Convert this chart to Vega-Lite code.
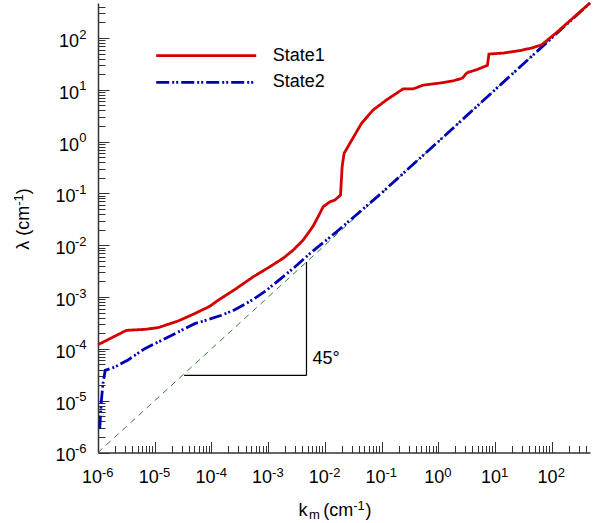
{
  "$schema": "https://vega.github.io/schema/vega-lite/v6.json",
  "width": 492,
  "height": 449.5,
  "autosize": {"type": "none"},
  "padding": {"left": 98, "top": 3, "right": 13, "bottom": 70.5},
  "config": {
    "font": "Liberation Sans",
    "view": {"stroke": null},
    "axis": {"grid": false, "labelFont": "Liberation Sans", "titleFont": "Liberation Sans", "labelColor": "#000", "titleColor": "#000", "titleFontWeight": "normal", "labelFlush": false, "labelOverlap": false, "labelBound": false},
    "legend": {"symbolType": "stroke", "symbolSize": 10000, "symbolStrokeWidth": 2.8, "clipHeight": 20, "rowPadding": 6.7, "labelOffset": 15, "labelFontSize": 18, "labelFont": "Liberation Sans", "labelColor": "#000", "padding": 0, "labelLimit": 300}
  },
  "resolve": {"axis": {"x": "independent", "y": "independent"}},
  "layer": [
    {
      "data": {"values": [{"k": 1e-6, "lam": 1e-6}, {"k": 475, "lam": 475}]},
      "mark": {"type": "line", "color": "#2f7f2f", "strokeWidth": 1, "strokeDash": [6, 5]},
      "encoding": {
        "x": {"field": "k", "type": "quantitative", "scale": {"type": "log", "domain": [1e-6, 475], "nice": false},
          "axis": {"orient": "bottom", "values": [1e-6,2e-6,3e-6,4e-6,5e-6,6e-6,7e-6,8e-6,9e-6,1e-5,2e-5,3e-5,4e-5,5e-5,6e-5,7e-5,8e-5,9e-5,1e-4,2e-4,3e-4,4e-4,5e-4,6e-4,7e-4,8e-4,9e-4,0.001,0.002,0.003,0.004,0.005,0.006,0.007,0.008,0.009,0.01,0.02,0.03,0.04,0.05,0.06,0.07,0.08,0.09,0.1,0.2,0.3,0.4,0.5,0.6,0.7,0.8,0.9,1,2,3,4,5,6,7,8,9,10,20,30,40,50,60,70,80,90,100,200,300,400],
            "labels": false, "ticks": true,
            "tickSize": {"condition": {"test": "abs(log(datum.value)/LN10 - round(log(datum.value)/LN10)) < 0.01", "value": -11}, "value": -7},
            "tickColor": "#333", "tickWidth": 1, "domain": true, "domainColor": "#333", "domainWidth": 1.5,
            "title": "k", "titleX": 200, "titleY": 62.5, "titleAlign": "left", "titleBaseline": "alphabetic", "titleAngle": 0, "titleFontSize": 18}},
        "y": {"field": "lam", "type": "quantitative", "scale": {"type": "log", "domain": [1e-6, 475], "nice": false},
          "axis": {"orient": "left", "values": [1e-6,2e-6,3e-6,4e-6,5e-6,6e-6,7e-6,8e-6,9e-6,1e-5,2e-5,3e-5,4e-5,5e-5,6e-5,7e-5,8e-5,9e-5,1e-4,2e-4,3e-4,4e-4,5e-4,6e-4,7e-4,8e-4,9e-4,0.001,0.002,0.003,0.004,0.005,0.006,0.007,0.008,0.009,0.01,0.02,0.03,0.04,0.05,0.06,0.07,0.08,0.09,0.1,0.2,0.3,0.4,0.5,0.6,0.7,0.8,0.9,1,2,3,4,5,6,7,8,9,10,20,30,40,50,60,70,80,90,100,200,300,400],
            "labels": false, "ticks": true,
            "tickSize": {"condition": {"test": "abs(log(datum.value)/LN10 - round(log(datum.value)/LN10)) < 0.01", "value": -11}, "value": -7},
            "tickColor": "#333", "tickWidth": 1, "domain": true, "domainColor": "#333", "domainWidth": 1.5,
            "title": "λ (cm", "titleX": -69.3, "titleY": 246.3, "titleAlign": "left", "titleBaseline": "alphabetic", "titleAngle": -90, "titleFontSize": 18}}
      }
    },
    {
      "data": {"values": [
        {"k1": 3.3e-5, "k2": 4.75e-3, "l1": 3.07e-5, "l2": 3.07e-5},
        {"k1": 4.75e-3, "k2": 4.75e-3, "l1": 3.07e-5, "l2": 4.75e-3}
      ]},
      "mark": {"type": "rule", "color": "#000", "strokeWidth": 1.2},
      "encoding": {
        "x": {"field": "k1", "type": "quantitative", "scale": {"type": "log", "domain": [1e-6, 475], "nice": false},
          "axis": {"orient": "bottom", "values": [1e-6,1e-5,1e-4,0.001,0.01,0.1,1,10,100], "ticks": false, "tickSize": 0, "domain": false,
            "labelExpr": "'10'", "labelAlign": "right", "labelBaseline": "alphabetic", "labelFontSize": 18, "labelPadding": 30.2,
            "labelOffset": {"condition": {"test": "datum.value < 1", "value": 3.5}, "value": 5.5},
            "title": "m", "titleX": 210.5, "titleY": 65.8, "titleAlign": "left", "titleBaseline": "alphabetic", "titleAngle": 0, "titleFontSize": 13}},
        "x2": {"field": "k2"},
        "y": {"field": "l1", "type": "quantitative", "scale": {"type": "log", "domain": [1e-6, 475], "nice": false},
          "axis": {"orient": "left", "values": [1e-6,1e-5,1e-4,0.001,0.01,0.1,1,10,100], "ticks": false, "tickSize": 0, "domain": false,
            "labelExpr": "'10'", "labelAlign": "right", "labelBaseline": "alphabetic", "labelFontSize": 18,
            "labelPadding": {"condition": {"test": "datum.value < 1", "value": 23}, "value": 19.5}, "labelOffset": 8.4,
            "title": "-1", "titleX": -75.3, "titleY": 202.3, "titleAlign": "left", "titleBaseline": "alphabetic", "titleAngle": -90, "titleFontSize": 13}},
        "y2": {"field": "l2"}
      }
    },
    {
      "data": {"values": [
        {"k": 1.072e-6, "lam": 2.90e-6, "series": "State2"},
        {"k": 1.148e-6, "lam": 1.009e-5, "series": "State2"},
        {"k": 1.225e-6, "lam": 2.15e-5, "series": "State2"},
        {"k": 1.34e-6, "lam": 3.84e-5, "series": "State2"},
        {"k": 1.97e-6, "lam": 4.45e-5, "series": "State2"},
        {"k": 3.38e-6, "lam": 6.12e-5, "series": "State2"},
        {"k": 4.44e-6, "lam": 7.48e-5, "series": "State2"},
        {"k": 6.67e-6, "lam": 1.009e-4, "series": "State2"},
        {"k": 1.315e-5, "lam": 1.459e-4, "series": "State2"},
        {"k": 2.58e-5, "lam": 2.11e-4, "series": "State2"},
        {"k": 5.08e-5, "lam": 3.07e-4, "series": "State2"},
        {"k": 8.73e-5, "lam": 3.67e-4, "series": "State2"},
        {"k": 1.506e-4, "lam": 4.45e-4, "series": "State2"},
        {"k": 2.58e-4, "lam": 5.68e-4, "series": "State2"},
        {"k": 5.43e-4, "lam": 8.95e-4, "series": "State2"},
        {"k": 9.37e-4, "lam": 1.355e-3, "series": "State2"},
        {"k": 2.76e-3, "lam": 3.56e-3, "series": "State2"},
        {"k": 5.45e-3, "lam": 6.93e-3, "series": "State2"},
        {"k": 1.61e-2, "lam": 1.815e-2, "series": "State2"},
        {"k": 0.1, "lam": 0.102, "series": "State2"},
        {"k": 1, "lam": 1, "series": "State2"},
        {"k": 475, "lam": 475, "series": "State2"}
      ]},
      "mark": {"type": "line", "strokeWidth": 2.8, "strokeCap": "butt"},
      "encoding": {
        "x": {"field": "k", "type": "quantitative", "scale": {"type": "log", "domain": [1e-6, 475], "nice": false},
          "axis": {"orient": "bottom", "values": [1e-6,1e-5,1e-4,0.001,0.01,0.1,1,10,100], "ticks": false, "tickSize": 0, "domain": false,
            "labelExpr": "'' + round(log(datum.value)/LN10)", "labelAlign": "left", "labelBaseline": "alphabetic", "labelFontSize": 13, "labelPadding": 24.2,
            "labelOffset": {"condition": {"test": "datum.value < 1", "value": 3.5}, "value": 5.5},
            "title": "(cm", "titleX": 224.7, "titleY": 62.5, "titleAlign": "left", "titleBaseline": "alphabetic", "titleAngle": 0, "titleFontSize": 18}},
        "y": {"field": "lam", "type": "quantitative", "scale": {"type": "log", "domain": [1e-6, 475], "nice": false},
          "axis": {"orient": "left", "values": [1e-6,1e-5,1e-4,0.001,0.01,0.1,1,10,100], "ticks": false, "tickSize": 0, "domain": false,
            "labelExpr": "'' + round(log(datum.value)/LN10)", "labelAlign": "right", "labelBaseline": "alphabetic", "labelFontSize": 13, "labelPadding": 12, "labelOffset": 0,
            "title": ")", "titleX": -69.3, "titleY": 190.7, "titleAlign": "left", "titleBaseline": "alphabetic", "titleAngle": -90, "titleFontSize": 18}},
        "color": {"field": "series", "type": "nominal", "scale": {"domain": ["State1", "State2"], "range": ["#d40000", "#0000b4"]},
          "legend": {"title": null, "orient": "none", "legendX": 56.7, "legendY": 42.7}},
        "strokeDash": {"field": "series", "type": "nominal", "scale": {"domain": ["State1", "State2"], "range": [[1, 0], [13, 3, 2, 2, 2, 3]]},
          "legend": {"title": null, "orient": "none", "legendX": 56.7, "legendY": 42.7}}
      }
    },
    {
      "data": {"values": [
        {"k": 1e-6, "lam": 1.205e-4, "series": "State1"},
        {"k": 3.17e-6, "lam": 2.28e-4, "series": "State1"},
        {"k": 6.67e-6, "lam": 2.38e-4, "series": "State1"},
        {"k": 1.146e-5, "lam": 2.57e-4, "series": "State1"},
        {"k": 2.58e-5, "lam": 3.45e-4, "series": "State1"},
        {"k": 5.08e-5, "lam": 4.80e-4, "series": "State1"},
        {"k": 9.35e-5, "lam": 6.64e-4, "series": "State1"},
        {"k": 1.312e-4, "lam": 8.67e-4, "series": "State1"},
        {"k": 2.58e-4, "lam": 1.396e-3, "series": "State1"},
        {"k": 5.43e-4, "lam": 2.45e-3, "series": "State1"},
        {"k": 1.072e-3, "lam": 3.85e-3, "series": "State1"},
        {"k": 1.84e-3, "lam": 5.62e-3, "series": "State1"},
        {"k": 2.76e-3, "lam": 8.04e-3, "series": "State1"},
        {"k": 4.14e-3, "lam": 1.256e-2, "series": "State1"},
        {"k": 6.22e-3, "lam": 2.34e-2, "series": "State1"},
        {"k": 8.17e-3, "lam": 4.12e-2, "series": "State1"},
        {"k": 9.33e-3, "lam": 5.53e-2, "series": "State1"},
        {"k": 1.227e-2, "lam": 6.90e-2, "series": "State1"},
        {"k": 1.503e-2, "lam": 7.45e-2, "series": "State1"},
        {"k": 1.892e-2, "lam": 9.31e-2, "series": "State1"},
        {"k": 2.02e-2, "lam": 0.328, "series": "State1"},
        {"k": 2.19e-2, "lam": 0.597, "series": "State1"},
        {"k": 2.77e-2, "lam": 0.931, "series": "State1"},
        {"k": 4.45e-2, "lam": 2.27, "series": "State1"},
        {"k": 7.13e-2, "lam": 4.10, "series": "State1"},
        {"k": 0.1227, "lam": 6.41, "series": "State1"},
        {"k": 0.241, "lam": 10.45, "series": "State1"},
        {"k": 0.361, "lam": 10.45, "series": "State1"},
        {"k": 0.543, "lam": 12.33, "series": "State1"},
        {"k": 1.148, "lam": 13.65, "series": "State1"},
        {"k": 1.837, "lam": 14.93, "series": "State1"},
        {"k": 2.673, "lam": 16.83, "series": "State1"},
        {"k": 3.08, "lam": 20.37, "series": "State1"},
        {"k": 3.34, "lam": 21.8, "series": "State1"},
        {"k": 4.75, "lam": 24.4, "series": "State1"},
        {"k": 7.38, "lam": 29.8, "series": "State1"},
        {"k": 7.84, "lam": 49.1, "series": "State1"},
        {"k": 14.0, "lam": 51.3, "series": "State1"},
        {"k": 27.6, "lam": 57.3, "series": "State1"},
        {"k": 45.9, "lam": 64.9, "series": "State1"},
        {"k": 66.7, "lam": 74.1, "series": "State1"},
        {"k": 122.7, "lam": 128.3, "series": "State1"},
        {"k": 475, "lam": 475, "series": "State1"}
      ]},
      "mark": {"type": "line", "strokeWidth": 2.8, "strokeCap": "butt"},
      "encoding": {
        "x": {"field": "k", "type": "quantitative", "scale": {"type": "log", "domain": [1e-6, 475], "nice": false},
          "axis": {"orient": "bottom", "labels": false, "ticks": false, "domain": false,
            "title": "-1", "titleX": 254.7, "titleY": 57, "titleAlign": "left", "titleBaseline": "alphabetic", "titleAngle": 0, "titleFontSize": 13}},
        "y": {"field": "lam", "type": "quantitative", "scale": {"type": "log", "domain": [1e-6, 475], "nice": false}, "axis": null},
        "color": {"field": "series", "type": "nominal", "scale": {"domain": ["State1", "State2"], "range": ["#d40000", "#0000b4"]},
          "legend": {"title": null, "orient": "none", "legendX": 56.7, "legendY": 42.7}},
        "strokeDash": {"field": "series", "type": "nominal", "scale": {"domain": ["State1", "State2"], "range": [[1, 0], [13, 3, 2, 2, 2, 3]]},
          "legend": {"title": null, "orient": "none", "legendX": 56.7, "legendY": 42.7}}
      }
    },
    {
      "data": {"values": [{"k": 6.07e-3, "lam": 5.18e-5, "label": "45°"}]},
      "mark": {"type": "text", "align": "left", "baseline": "alphabetic", "fontSize": 18, "font": "Liberation Sans", "color": "#000"},
      "encoding": {
        "x": {"field": "k", "type": "quantitative", "scale": {"type": "log", "domain": [1e-6, 475], "nice": false},
          "axis": {"orient": "bottom", "labels": false, "ticks": false, "domain": false,
            "title": ")", "titleX": 267, "titleY": 62.5, "titleAlign": "left", "titleBaseline": "alphabetic", "titleAngle": 0, "titleFontSize": 18}},
        "y": {"field": "lam", "type": "quantitative", "scale": {"type": "log", "domain": [1e-6, 475], "nice": false}, "axis": null},
        "text": {"field": "label"}
      }
    }
  ]
}
